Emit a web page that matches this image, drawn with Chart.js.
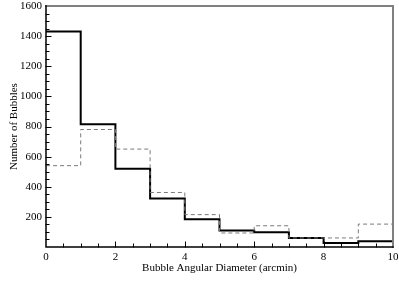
<!DOCTYPE html>
<html>
<head>
<meta charset="utf-8">
<script src="https://cdn.jsdelivr.net/npm/chart.js@4"></script>
<style>
  html, body { margin: 0; padding: 0; background: #fff; }
  #wrap { width: 399px; height: 282px; }
</style>
</head>
<body>
<div id="wrap"><canvas id="myChart"></canvas></div>
<script>
// bin left edges (arcmin), last edge closes the final bin
const binEdges = [0, 1, 2, 3, 4, 5, 6, 7, 8, 9, 10];
const solidCounts = [1430, 815, 520, 322, 185, 110, 98, 60, 27, 38];
const dashedCounts = [540, 780, 650, 362, 215, 93, 141, 60, 60, 152];
const yTicks = [200, 400, 600, 800, 1000, 1200, 1400, 1600];
const xTicks = [0, 2, 4, 6, 8, 10];

const toSteps = (counts) => {
  let pts = counts.map((v, i) => ({ x: binEdges[i], y: v }));
  pts.push({ x: binEdges[binEdges.length - 1], y: counts[counts.length - 1] });
  return pts;
};

const serif = "'Liberation Serif', 'DejaVu Serif', serif";

// frame + inward tick marks
const framePlugin = {
  id: "frame",
  afterDatasetsDraw(chart) {
    const c = chart.ctx;
    const a = chart.chartArea;
    const xs = chart.scales.x;
    const ys = chart.scales.y;
    c.save();
    c.lineCap = "square";
    // top + right (gray)
    c.strokeStyle = "#808080";
    c.lineWidth = 2;
    c.beginPath();
    c.moveTo(a.left, a.top);
    c.lineTo(a.right, a.top);
    c.lineTo(a.right, a.bottom);
    c.stroke();
    // left + bottom (black)
    c.strokeStyle = "#000";
    c.lineWidth = 1.5;
    c.beginPath();
    c.moveTo(a.left, a.top);
    c.lineTo(a.left, a.bottom);
    c.lineTo(a.right, a.bottom);
    c.stroke();
    // ticks
    c.lineWidth = 1;
    c.beginPath();
    for (let v = 50; v < 1600; v += 50) {
      const y = Math.round(ys.getPixelForValue(v)) + 0.5;
      const len = v % 200 === 0 ? 5 : 3;
      c.moveTo(a.left, y);
      c.lineTo(a.left + len, y);
    }
    for (let v = 0.5; v < 10; v += 0.5) {
      const x = Math.round(xs.getPixelForValue(v)) + 0.5;
      const len = v % 2 === 0 ? 5 : 3;
      c.moveTo(x, a.bottom);
      c.lineTo(x, a.bottom - len);
    }
    c.stroke();
    c.restore();
  },
};

const ctx = document.getElementById("myChart");

const myChart = new Chart(ctx, {
  type: "line",
  data: {
    datasets: [
      {
        label: "dashed",
        data: toSteps(dashedCounts),
        stepped: "before",
        borderColor: "#7a7a7a",
        borderWidth: 1,
        borderDash: [4, 3],
        pointRadius: 0,
        fill: false,
      },
      {
        label: "solid",
        data: toSteps(solidCounts),
        stepped: "before",
        borderColor: "#000",
        borderWidth: 2,
        pointRadius: 0,
        fill: false,
      },
    ],
  },
  options: {
    responsive: true,
    maintainAspectRatio: false,
    animation: false,
    layout: { padding: { left: 4, right: 6, top: 6, bottom: 3 } },
    plugins: {
      legend: { display: false },
      tooltip: { enabled: false },
    },
    scales: {
      x: {
        type: "linear",
        min: 0,
        max: 10,
        afterBuildTicks: (s) => { s.ticks = xTicks.map((v) => ({ value: v })); },
        afterFit: (s) => {
          s.height = 32;
          s.paddingLeft = 0;
          s.paddingRight = 0;
        },
        grid: { display: false, drawTicks: false },
        border: { display: false },
        ticks: {
          color: "#000",
          padding: 4,
          maxRotation: 0,
          font: { family: serif, size: 11 },
          callback: (v) => String(v),
        },
        title: {
          display: true,
          text: "Bubble Angular Diameter (arcmin)",
          color: "#000",
          font: { family: serif, size: 11 },
          padding: { top: 0, bottom: 4 },
        },
      },
      y: {
        min: 0,
        max: 1600,
        afterBuildTicks: (s) => { s.ticks = yTicks.map((v) => ({ value: v })); },
        afterFit: (s) => {
          s.width = 42;
          s.paddingTop = 0;
          s.paddingBottom = 0;
        },
        grid: { display: false, drawTicks: false },
        border: { display: false },
        ticks: {
          color: "#000",
          padding: 4,
          font: { family: serif, size: 11 },
          callback: (v) => String(v),
        },
        title: {
          display: true,
          text: "Number of Bubbles",
          color: "#000",
          font: { family: serif, size: 11 },
          padding: { top: 4, bottom: 0 },
        },
      },
    },
  },
  plugins: [framePlugin],
});
</script>
</body>
</html>
